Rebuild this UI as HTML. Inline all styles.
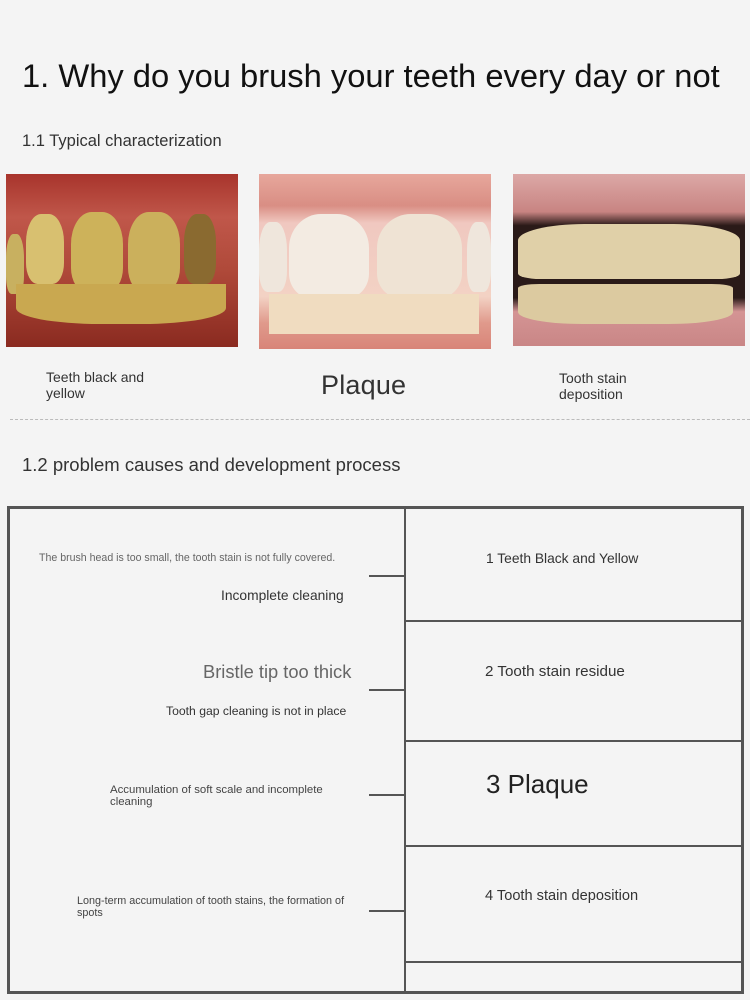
<!DOCTYPE html>
<html><head><meta charset="utf-8"><style>
*{margin:0;padding:0;box-sizing:border-box}
body{width:750px;height:1000px;background:#f4f4f4;position:relative;overflow:hidden;font-family:"Liberation Sans",sans-serif;color:#222}
.a{position:absolute;white-space:nowrap}
.ln{position:absolute;background:#555}
.img{position:absolute;overflow:hidden}
.tooth{position:absolute;border-radius:40% 40% 30% 30%}
</style></head><body>
<div class="a" style="left:22px;top:57px;font-size:32.7px;color:#111">1. Why do you brush your teeth every day or not</div>
<div class="a" style="left:22px;top:132px;font-size:16.5px;color:#333">1.1 Typical characterization</div>

<div class="img" style="left:6px;top:174px;width:232px;height:173px;background:linear-gradient(#a8342c 0%,#c0574a 25%,#b04a3a 55%,#8a2a20 100%)">
 <div class="tooth" style="left:20px;top:40px;width:38px;height:70px;background:#d8c070"></div>
 <div class="tooth" style="left:65px;top:38px;width:52px;height:80px;background:#cdb25a"></div>
 <div class="tooth" style="left:122px;top:38px;width:52px;height:80px;background:#cbb05c"></div>
 <div class="tooth" style="left:178px;top:40px;width:32px;height:70px;background:#8a6a30"></div>
 <div class="tooth" style="left:0px;top:60px;width:18px;height:60px;background:#c8b060"></div>
 <div style="position:absolute;left:10px;top:110px;width:210px;height:40px;background:#c9a850;border-radius:0 0 40% 40%"></div>
</div>
<div class="img" style="left:259px;top:174px;width:232px;height:175px;background:linear-gradient(#e7a79c 0%,#d98e84 18%,#f0c8c0 28%,#f3d2c4 70%,#e09a8c 85%,#d88478 100%)">
 <div class="tooth" style="left:30px;top:40px;width:80px;height:85px;background:#f3ebe2"></div>
 <div class="tooth" style="left:118px;top:40px;width:85px;height:85px;background:#efe3d4"></div>
 <div class="tooth" style="left:0px;top:48px;width:28px;height:70px;background:#efe6dc"></div>
 <div class="tooth" style="left:208px;top:48px;width:24px;height:70px;background:#efe6dc"></div>
 <div style="position:absolute;left:10px;top:120px;width:210px;height:40px;background:#f0dcc0"></div>
</div>
<div class="img" style="left:513px;top:174px;width:232px;height:172px;background:linear-gradient(#dca8a6 0%,#c88482 22%,#2a1a18 30%,#2a1a18 72%,#d49494 80%,#c98686 100%)">
 <div style="position:absolute;left:5px;top:50px;width:222px;height:55px;background:#e0d0a8;border-radius:30% 30% 10% 10%"></div>
 <div style="position:absolute;left:5px;top:110px;width:215px;height:40px;background:#dccaa0;border-radius:10% 10% 30% 30%"></div>
</div>

<div class="a" style="left:46px;top:369px;font-size:14px;line-height:16px;color:#333">Teeth black and<br>yellow</div>
<div class="a" style="left:321px;top:370px;font-size:27px;color:#333;letter-spacing:0.2px">Plaque</div>
<div class="a" style="left:559px;top:370px;font-size:14px;line-height:16px;color:#333">Tooth stain<br>deposition</div>
<div style="position:absolute;left:10px;top:419px;width:740px;border-top:1px dashed #bbb"></div>

<div class="a" style="left:22px;top:454px;font-size:18.5px;color:#333">1.2 problem causes and development process</div>

<div style="position:absolute;left:7px;top:506px;width:737px;height:488px;border:3px solid #555"></div>
<div class="ln" style="left:404px;top:507px;width:2px;height:486px"></div>
<div class="ln" style="left:405px;top:620px;width:337px;height:2px"></div>
<div class="ln" style="left:405px;top:740px;width:337px;height:2px"></div>
<div class="ln" style="left:405px;top:845px;width:337px;height:2px"></div>
<div class="ln" style="left:405px;top:961px;width:337px;height:2px"></div>
<div class="ln" style="left:369px;top:575px;width:36px;height:2px"></div>
<div class="ln" style="left:369px;top:689px;width:36px;height:2px"></div>
<div class="ln" style="left:369px;top:794px;width:36px;height:2px"></div>
<div class="ln" style="left:369px;top:910px;width:36px;height:2px"></div>

<div class="a" style="left:39px;top:552px;font-size:10.6px;color:#666">The brush head is too small, the tooth stain is not fully covered.</div>
<div class="a" style="left:221px;top:588px;font-size:13.8px;color:#333">Incomplete cleaning</div>
<div class="a" style="left:203px;top:661px;font-size:18.3px;color:#666">Bristle tip too thick</div>
<div class="a" style="left:166px;top:704px;font-size:12.2px;color:#333">Tooth gap cleaning is not in place</div>
<div class="a" style="left:110px;top:784px;font-size:11.4px;line-height:12px;color:#444">Accumulation of soft scale and incomplete<br>cleaning</div>
<div class="a" style="left:77px;top:895px;font-size:10.8px;line-height:12px;color:#444">Long-term accumulation of tooth stains, the formation of<br>spots</div>

<div class="a" style="left:486px;top:551px;font-size:13.8px;color:#333">1 Teeth Black and Yellow</div>
<div class="a" style="left:485px;top:663px;font-size:15.2px;color:#333">2 Tooth stain residue</div>
<div class="a" style="left:486px;top:769px;font-size:26px;color:#222">3 Plaque</div>
<div class="a" style="left:485px;top:888px;font-size:14.6px;color:#333">4 Tooth stain deposition</div>
</body></html>
